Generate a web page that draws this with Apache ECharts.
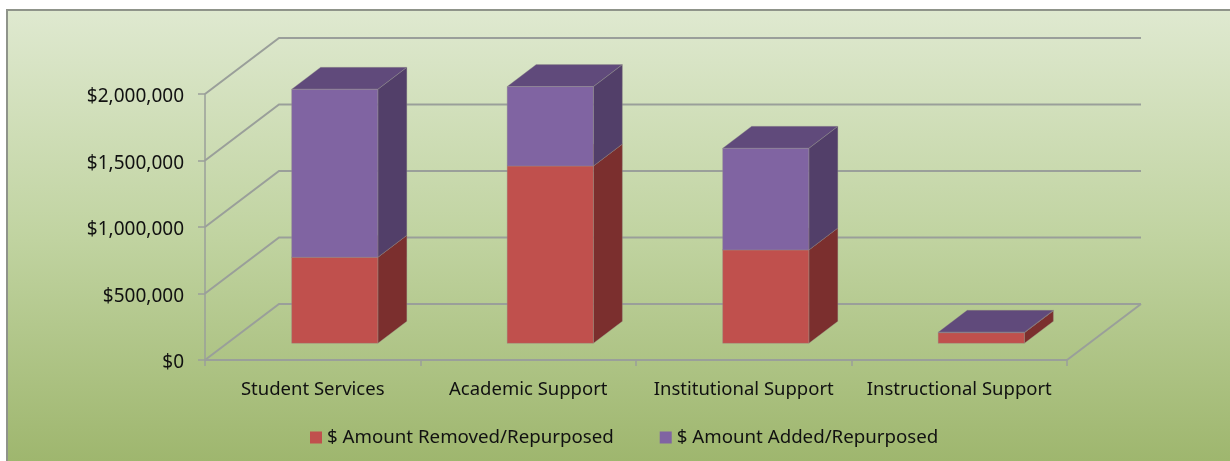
<!DOCTYPE html>
<html>
<head>
<meta charset="utf-8">
<script src="https://cdn.jsdelivr.net/npm/echarts@6/dist/echarts.min.js"></script>
<style>
  html, body { margin: 0; padding: 0; background: #fff; }
  #chart { width: 1230px; height: 461px; }
</style>
</head>
<body>
<div id="chart"></div>
<script>
var categories = ['Student Services', 'Academic Support', 'Institutional Support', 'Instructional Support']
var removed = [647000, 1333000, 702000, 80000]
var added = [1263000, 597000, 764000, 3000]
var yTicks = [0, 500000, 1000000, 1500000, 2000000]

// fake 3D offsets, in pixels
var wallDx = 74
var wallDy = -56
var barShiftX = 22
var barShiftY = -16.7
var barDepthX = 29
var barDepthY = -22

function money(v) {
  return '$' + String(v).replace(/\B(?=(\d{3})+$)/g, ',')
}

function polygon(points, color) {
  return {
    type: 'polygon',
    shape: { points: points },
    style: { fill: color, stroke: 'rgba(150,150,140,0.35)', lineWidth: 1 }
  }
}

function barRender(front, side, top) {
  return function(params, api) {
    var w = api.size([1, 0])[0] * 0.4
    var a = api.coord([api.value(0), api.value(1)])
    var b = api.coord([api.value(0), api.value(2)])
    var x0 = a[0] + barShiftX - w / 2
    var x1 = x0 + w
    var y0 = a[1] + barShiftY
    var y1 = b[1] + barShiftY
    return {
      type: 'group',
      children: [
        polygon([[x1, y0], [x1 + barDepthX, y0 + barDepthY], [x1 + barDepthX, y1 + barDepthY], [x1, y1]], side),
        polygon([[x0, y1], [x1, y1], [x1 + barDepthX, y1 + barDepthY], [x0 + barDepthX, y1 + barDepthY]], top),
        polygon([[x0, y0], [x1, y0], [x1, y1], [x0, y1]], front)
      ]
    }
  }
}

var chart = echarts.init(document.getElementById('chart'))
chart.setOption({
  animation: false,
  textStyle: { fontFamily: 'Noto Sans' },
  graphic: [{
    type: 'rect',
    z: -10,
    shape: { x: 7, y: 10, width: 1230, height: 460 },
    style: {
      stroke: '#8f948a',
      lineWidth: 2,
      fill: new echarts.graphic.LinearGradient(0, 0, 0, 1, [
        { offset: 0, color: '#dfe9d0' },
        { offset: 0.5, color: '#c0d3a0' },
        { offset: 1, color: '#9db56c' }
      ])
    }
  }],
  legend: {
    left: 305,
    top: 423,
    itemWidth: 12,
    itemHeight: 12,
    itemGap: 46,
    textStyle: { fontSize: 18.7, color: '#111' },
    data: [
      { name: '$ Amount Removed/Repurposed', icon: 'rect' },
      { name: '$ Amount Added/Repurposed', icon: 'rect' }
    ]
  },
  grid: { left: 205, right: 163, top: 94, bottom: 101 },
  xAxis: {
    type: 'category',
    data: categories,
    axisLine: { lineStyle: { color: '#9a9f9a', width: 2 } },
    axisTick: { show: true, interval: 0, alignWithLabel: false, length: 6, lineStyle: { color: '#9a9f9a', width: 1.5 } },
    axisLabel: { interval: 0, fontSize: 18.5, color: '#111', margin: 20 }
  },
  yAxis: {
    type: 'value',
    min: 0,
    max: 2000000,
    interval: 500000,
    splitLine: { show: false },
    axisLine: { show: true, lineStyle: { color: '#9a9f9a', width: 1.5 } },
    axisTick: { show: true, length: 7, lineStyle: { color: '#9a9f9a', width: 1.5 } },
    // small line height + top align pushes the labels down a little
    axisLabel: { fontSize: 19, color: '#111', margin: 21, verticalAlign: 'top', lineHeight: 6, formatter: money }
  },
  series: [
    {
      name: 'walls',
      type: 'custom',
      coordinateSystem: 'cartesian2d',
      silent: true,
      z: 1,
      data: yTicks.map(function(v) { return [0, v] }),
      renderItem: function(params, api) {
        var p = api.coord([0, api.value(1)])
        var left = p[0] - api.size([1, 0])[0] / 2
        var right = left + api.size([1, 0])[0] * categories.length
        var children = [{
          type: 'polyline',
          shape: { points: [[left, p[1]], [left + wallDx, p[1] + wallDy], [right + wallDx, p[1] + wallDy]] },
          style: { fill: null, stroke: '#9a9f9a', lineWidth: 2 }
        }]
        if (api.value(1) === 0) {
          children.push({
            type: 'line',
            shape: { x1: right, y1: p[1], x2: right + wallDx, y2: p[1] + wallDy },
            style: { stroke: '#9a9f9a', lineWidth: 2 }
          })
        }
        return { type: 'group', children: children }
      }
    },
    {
      name: '$ Amount Removed/Repurposed',
      type: 'custom',
      coordinateSystem: 'cartesian2d',
      z: 2,
      itemStyle: { color: '#c0504d' },
      data: removed.map(function(v, i) { return [i, 0, v] }),
      encode: { x: 0, y: [1, 2] },
      renderItem: barRender('#c0504d', '#7b2f2e', '#98403d')
    },
    {
      name: '$ Amount Added/Repurposed',
      type: 'custom',
      coordinateSystem: 'cartesian2d',
      z: 3,
      itemStyle: { color: '#8064a2' },
      data: added.map(function(v, i) { return [i, removed[i], removed[i] + v] }),
      encode: { x: 0, y: [1, 2] },
      renderItem: barRender('#8064a2', '#523f69', '#604a7b')
    }
  ]
})
</script>
</body>
</html>
